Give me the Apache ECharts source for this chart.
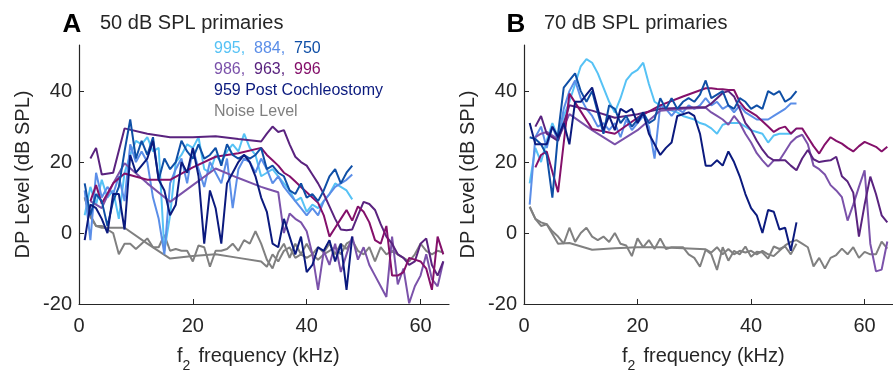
<!DOCTYPE html>
<html>
<head>
<meta charset="utf-8">
<script src="https://cdn.jsdelivr.net/npm/echarts@6/dist/echarts.min.js"></script>
<style>
  html, body { margin: 0; padding: 0; background: #ffffff; }
  #chart { width: 893px; height: 382px; }
</style>
</head>
<body>
<div id="chart"></div>
<script>
// f2 frequencies (kHz): dense sweep used for the blue group and its noise floor
const freqDense = [1,2,3,4,5,6,7,8,9,10,11,12,13,14,15,16,17,18,19,20,21,22,23,24,25,26,27,28,29,30,31,32,33,34,35,36,37,38,39,40,41,42,43,44,45,46,47,48];
// f2 frequencies (kHz): coarse-then-fine sweep used for the purple group
const freqSparse = [2,3,4,6,8,12,16,20,24,28,32,33,34,35,36,37,38,39,40,41,42,43,44,45,46,47,48,49,50,51,52,53,54,55,56,57,58,59,60,61,62,63,64];
const freqNoiseSparse = [1,2,3,4,6,8,12,16,20,24,28,32,33,34,35,36,37,38,39,40,41,42,43,44,45,46,47,48,49,50,51,52,53,54,55,56,57,58,59,60,61,62,63,64];

const xTicks = [0, 20, 40, 60];
const yTicks = [-20, 0, 20, 40];

// ---- 50 dB SPL primaries (dB SPL) ----
const a995 = [5,13,8,15,10,12,4,17,22,26, 25,27,23,24,-5,5,20,22,25,24, 27,18,17,22,20,23,25,23,28,24, 22,16,17,18,16,14,12,9,10,6, 8,7,9,11,14,13,12,9.5];
const a884 = [12,-2,17,10,13,11,16,9,25,20, 23,20,10,4,-6,14,18,21,14,24, 18,13,20,17,14,21,7,18,21,20, 17,21,18,14,16,13,11,9,7,5, 7,5,9,11,13,14,15,16.5];
const a750 = [14,5,11,9,2,9,13,23,32,21, 26,22,27,15,21,18,20,26,23,21, 25,21,22,24,19,25,22,21,22,21, 22,24,18,19,17,16,12,11,14,10, 11,9,12,16,18,14,17,19];
const a959 = [-2,8,7,4,0,11,11,1,22,17, 19,21,26,15,12,5,8,20,17,24, 16,-3,12,7,-3,14,17,20,22,20, 16,10,6,-3,-4,4,-1,-6,-1,-11, -9,-4,-5,-2,-8,-3,-16,-1];
const aNoiseDense = [10,5,2,2,1,0,-6,-3,-3,-4.5, -3,-1.5,-4,-4,-0.5,-5,-4.5,-5,-5,-8, -3.5,-4,-9.5,-5,-5,-4.5,-3,-5,-2,-3, 0.5,-3,-7.5,-10,-5.5,-3,-7,-3,-6,-3, -6,-4,-5.5,-3,-6,-3,-4.5,-2];
const a986 = [9,8,7,14,19.7,14,8.8,13.5,18.2,15.5,13, 12.5,12,11.5,0,5.5,4,3,0.5,-6,-16,-5,-9,-3,-11,-6,-1,-7.5,-4,-9,-12,-15,-18,-1,-14.5,-10,-19.8,-15,-12,-6,-13,-15,-8];
const a963 = [21,24,16.5,17,29.5,28,27,27,27.3,26.5,25.8, 28,30,28.5,29,25,21.5,20,19,16.5,14,11,7.5,4,1,0.8,1,5,8.8,8.2,6.5,2.5,-1,-3,-6,-7,-9,-8,-3,-1.5,-9,-12,-8];
const a996 = [9,13.5,8.3,14,16.8,15,15,18.5,21.5,22.5,24, 22,20.5,19,17,16,14.5,13,11.5,10,8.5,5,-1,1.5,4,6.5,3.5,7.5,6,3,-2,-3,2,-12,-12,-11,-7,-7.5,-8,-10,-16,-1,-6];
const aNoiseSparse = [10,4.5,2,1.5,1.5,1.5,-3,-7.2,-6.5,-6,-7,-8, -9.5,-6,-8,-5,-4,-7,-6,-7,-6,-7.5,-6,-5,-4,-6,-3,-2,-5,-6,-4,-8,-4,-6,-5,-6,-7,-8,-6,-3,-5,-6,-5,-5.5];

// ---- 70 dB SPL primaries (dB SPL) ----
const b995 = [14,24,20,26,31,27,33,37,42,47, 49,48,45,41,37,34,38,43,45,46, 48,42,37,36,35,34.5,34,33,32.5,32, 31,30.5,29.5,28,30.5,31,31,31,30,29, 28.5,28,25.5,27.5,28,28,28,29.5];
const b884 = [8,27,30,24,30,26,35,40,43,38, 35,33,30,31,29,31,27,32,29,31, 33,30,21,36,35,33,35,34,36,35, 36,38,36,37,35,36,34,36,34,33, 32,32,32,33,34,35,36.5,36.5];
const b750 = [27,26.5,25,22,10,28,41,43,45,40, 37,40,34,28,36,35,31,33,30,32, 34,31,32,38,35,38,35,37,38,37, 39,43,38,39,40,36,35,38,37,35, 36,35,40,39,40,37,38,40];
const b959 = [31,25,25,25,30,27,31,25,37,37, 39,41,35,29,33,29,35,34,35,31, 34,28,25,22,24,25.5,33,33.5,34,33, 28,19,19,20.5,19,23,20,16,11,7, 5,0,6.5,6,1,1.5,-5,3];
const bNoiseDense = [7.4,4,2,2.5,0.5,-1,-3,1.5,-2.5,0, 1.5,-1,-2,-1,-2.5,0,-3,-3.5,-6.5,-1.5, -4,-2,-4.5,-1.5,-4.5,-4,-4,-4,-6,-7, -9.5,-4.7,-6,-10.4,-4,-7.8,-5,-6,-3.8,-6.7, -5.3,-5.5,-7.2,-3.8,-4.5,-3.8,-6,-3];
const b986 = [27,28,28.5,26.5,33.5,29,25,29,34.5,35,35.3, 34,33,32,30.5,33,31,28,25.5,22.5,20.5,18.7,20.5,20.5,23,25.5,27,27.7,25,19,18,16.5,13.5,12,10.1,3.5,8,13,17.7,-3,-10.8,-10.3,-2.4];
const b963 = [30,33,28,26,36,34.5,32.5,33.5,35,35.3,35.5, 36.5,38,39.5,40,38.5,35,31,29,26,23.5,21.5,20.5,20.5,20.5,19,17.7,21,23.4,20.8,20,20.3,20.5,21.5,16,14.5,11.4,-1,8,15.9,11,5,3];
const b996 = [18.5,22,23,11.5,39.3,29.3,28,32.5,36,38.5,40.8, 40.8,40.6,40.5,40.3,40.3,37,35,34,33,31.5,30,28.5,29.5,30,28,29.5,29.5,27,24.5,22.4,25,27,26,25.2,24,23,24.5,25.7,25,24.3,23,24.3];
const bNoiseSparse = [7.4,4,3,2.5,-3,-2.8,-4.7,-4.3,-4,-4,-4.3,-4.6, -5.5,-4,-6,-4.5,-6,-5,-5.5,-5,-6,-5,-6,-6.5,-5,-3.5,-2.5,-2,-3,-4,-9.4,-7,-10,-7,-6.2,-4.4,-6,-4,-7,-5.3,-6,-6,-2.4,-4.4];

const COLORS = {
  c995: '#56c2f5',
  c884: '#5b8ee8',
  c750: '#0f4fa6',
  c986: '#7b52aa',
  c963: '#5a237f',
  c996: '#84106a',
  c959: '#0b1a7e',
  noise: '#808080'
};

const FONT = '"Liberation Sans", Arial, Helvetica, sans-serif';
const INK = '#262626';

function pairs(xs, ys) {
  return xs.map(function (x, i) { return [x, ys[i]]; });
}

function lineSeries(panel, xs, ys, color) {
  return {
    type: 'line',
    xAxisIndex: panel,
    yAxisIndex: panel,
    data: pairs(xs, ys),
    showSymbol: false,
    symbol: 'none',
    lineStyle: { color: color, width: 2 },
    itemStyle: { color: color },
    emphasis: { disabled: true },
    silent: true,
    z: 2
  };
}

function panelSeries(panel, d) {
  return [
    lineSeries(panel, freqDense, d.n1, COLORS.noise),
    lineSeries(panel, freqNoiseSparse, d.n2, COLORS.noise),
    lineSeries(panel, freqDense, d.s995, COLORS.c995),
    lineSeries(panel, freqDense, d.s884, COLORS.c884),
    lineSeries(panel, freqSparse, d.s986, COLORS.c986),
    lineSeries(panel, freqSparse, d.s963, COLORS.c963),
    lineSeries(panel, freqSparse, d.s996, COLORS.c996),
    lineSeries(panel, freqDense, d.s750, COLORS.c750),
    lineSeries(panel, freqDense, d.s959, COLORS.c959)
  ];
}

function xAxisFor(panel) {
  return {
    type: 'value',
    gridIndex: panel,
    min: 0,
    max: 65,
    axisLine: { show: true, onZero: false, lineStyle: { color: INK, width: 1.2 } },
    axisTick: { show: true, inside: true, length: 5, customValues: xTicks, lineStyle: { color: INK } },
    axisLabel: { customValues: xTicks, color: INK, fontSize: 20, fontFamily: FONT, margin: 12 },
    splitLine: { show: false }
  };
}

function yAxisFor(panel) {
  return {
    type: 'value',
    gridIndex: panel,
    min: -20,
    max: 53,
    name: 'DP Level (dB SPL)',
    nameLocation: 'middle',
    nameGap: 46,
    nameTextStyle: { color: INK, fontSize: 20, fontFamily: FONT },
    axisLine: { show: true, onZero: false, lineStyle: { color: INK, width: 1.2 } },
    axisTick: { show: true, inside: true, length: 5, customValues: yTicks, lineStyle: { color: INK } },
    axisLabel: { customValues: yTicks, color: INK, fontSize: 20, fontFamily: FONT, margin: 7 },
    splitLine: { show: false }
  };
}

function txt(x, y, text, opts) {
  return {
    type: 'text',
    x: x,
    y: y,
    silent: true,
    style: Object.assign({
      text: text,
      fill: INK,
      font: '20px ' + FONT,
      align: 'left',
      verticalAlign: 'middle'
    }, opts || {})
  };
}

function xAxisTitle(x0) {
  return [
    txt(x0, 366, 'f', { font: '20px ' + FONT, verticalAlign: 'bottom' }),
    txt(x0 + 5.5, 373, '2', { font: '14px ' + FONT, verticalAlign: 'bottom' }),
    txt(x0 + 21.5, 366, 'frequency (kHz)', { font: '20px ' + FONT, verticalAlign: 'bottom' })
  ];
}

const legendRows = [
  txt(214, 49, '{a|995,}  {b|884,}  {c|750}', {
    font: '16px ' + FONT,
    rich: {
      a: { fill: COLORS.c995, font: '16px ' + FONT },
      b: { fill: COLORS.c884, font: '16px ' + FONT },
      c: { fill: COLORS.c750, font: '16px ' + FONT }
    }
  }),
  txt(214, 70, '{a|986,}  {b|963,}  {c|996}', {
    font: '16px ' + FONT,
    rich: {
      a: { fill: COLORS.c986, font: '16px ' + FONT },
      b: { fill: COLORS.c963, font: '16px ' + FONT },
      c: { fill: COLORS.c996, font: '16px ' + FONT }
    }
  }),
  txt(214, 91, '959 Post Cochleostomy', { font: '16px ' + FONT, fill: COLORS.c959 }),
  txt(214, 112, 'Noise Level', { font: '16px ' + FONT, fill: COLORS.noise })
];

const chart = echarts.init(document.getElementById('chart'), null, { renderer: 'canvas' });

chart.setOption({
  animation: false,
  backgroundColor: '#ffffff',
  grid: [
    { left: 79, top: 45, width: 370, height: 259 },
    { left: 524, top: 45, width: 375, height: 259 }
  ],
  xAxis: [xAxisFor(0), xAxisFor(1)],
  yAxis: [yAxisFor(0), yAxisFor(1)],
  series: panelSeries(0, {
    n1: aNoiseDense, n2: aNoiseSparse,
    s995: a995, s884: a884, s750: a750, s959: a959,
    s986: a986, s963: a963, s996: a996
  }).concat(panelSeries(1, {
    n1: bNoiseDense, n2: bNoiseSparse,
    s995: b995, s884: b884, s750: b750, s959: b959,
    s986: b986, s963: b963, s996: b996
  })),
  graphic: [
    txt(72, 25, 'A', { font: 'bold 26px ' + FONT, align: 'center', fill: '#000000' }),
    txt(100, 23, '50 dB SPL primaries', { font: '20px ' + FONT }),
    txt(516, 25, 'B', { font: 'bold 26px ' + FONT, align: 'center', fill: '#000000' }),
    txt(544, 23, '70 dB SPL primaries', { font: '20px ' + FONT })
  ].concat(legendRows, xAxisTitle(177), xAxisTitle(622))
});
</script>
</body>
</html>
